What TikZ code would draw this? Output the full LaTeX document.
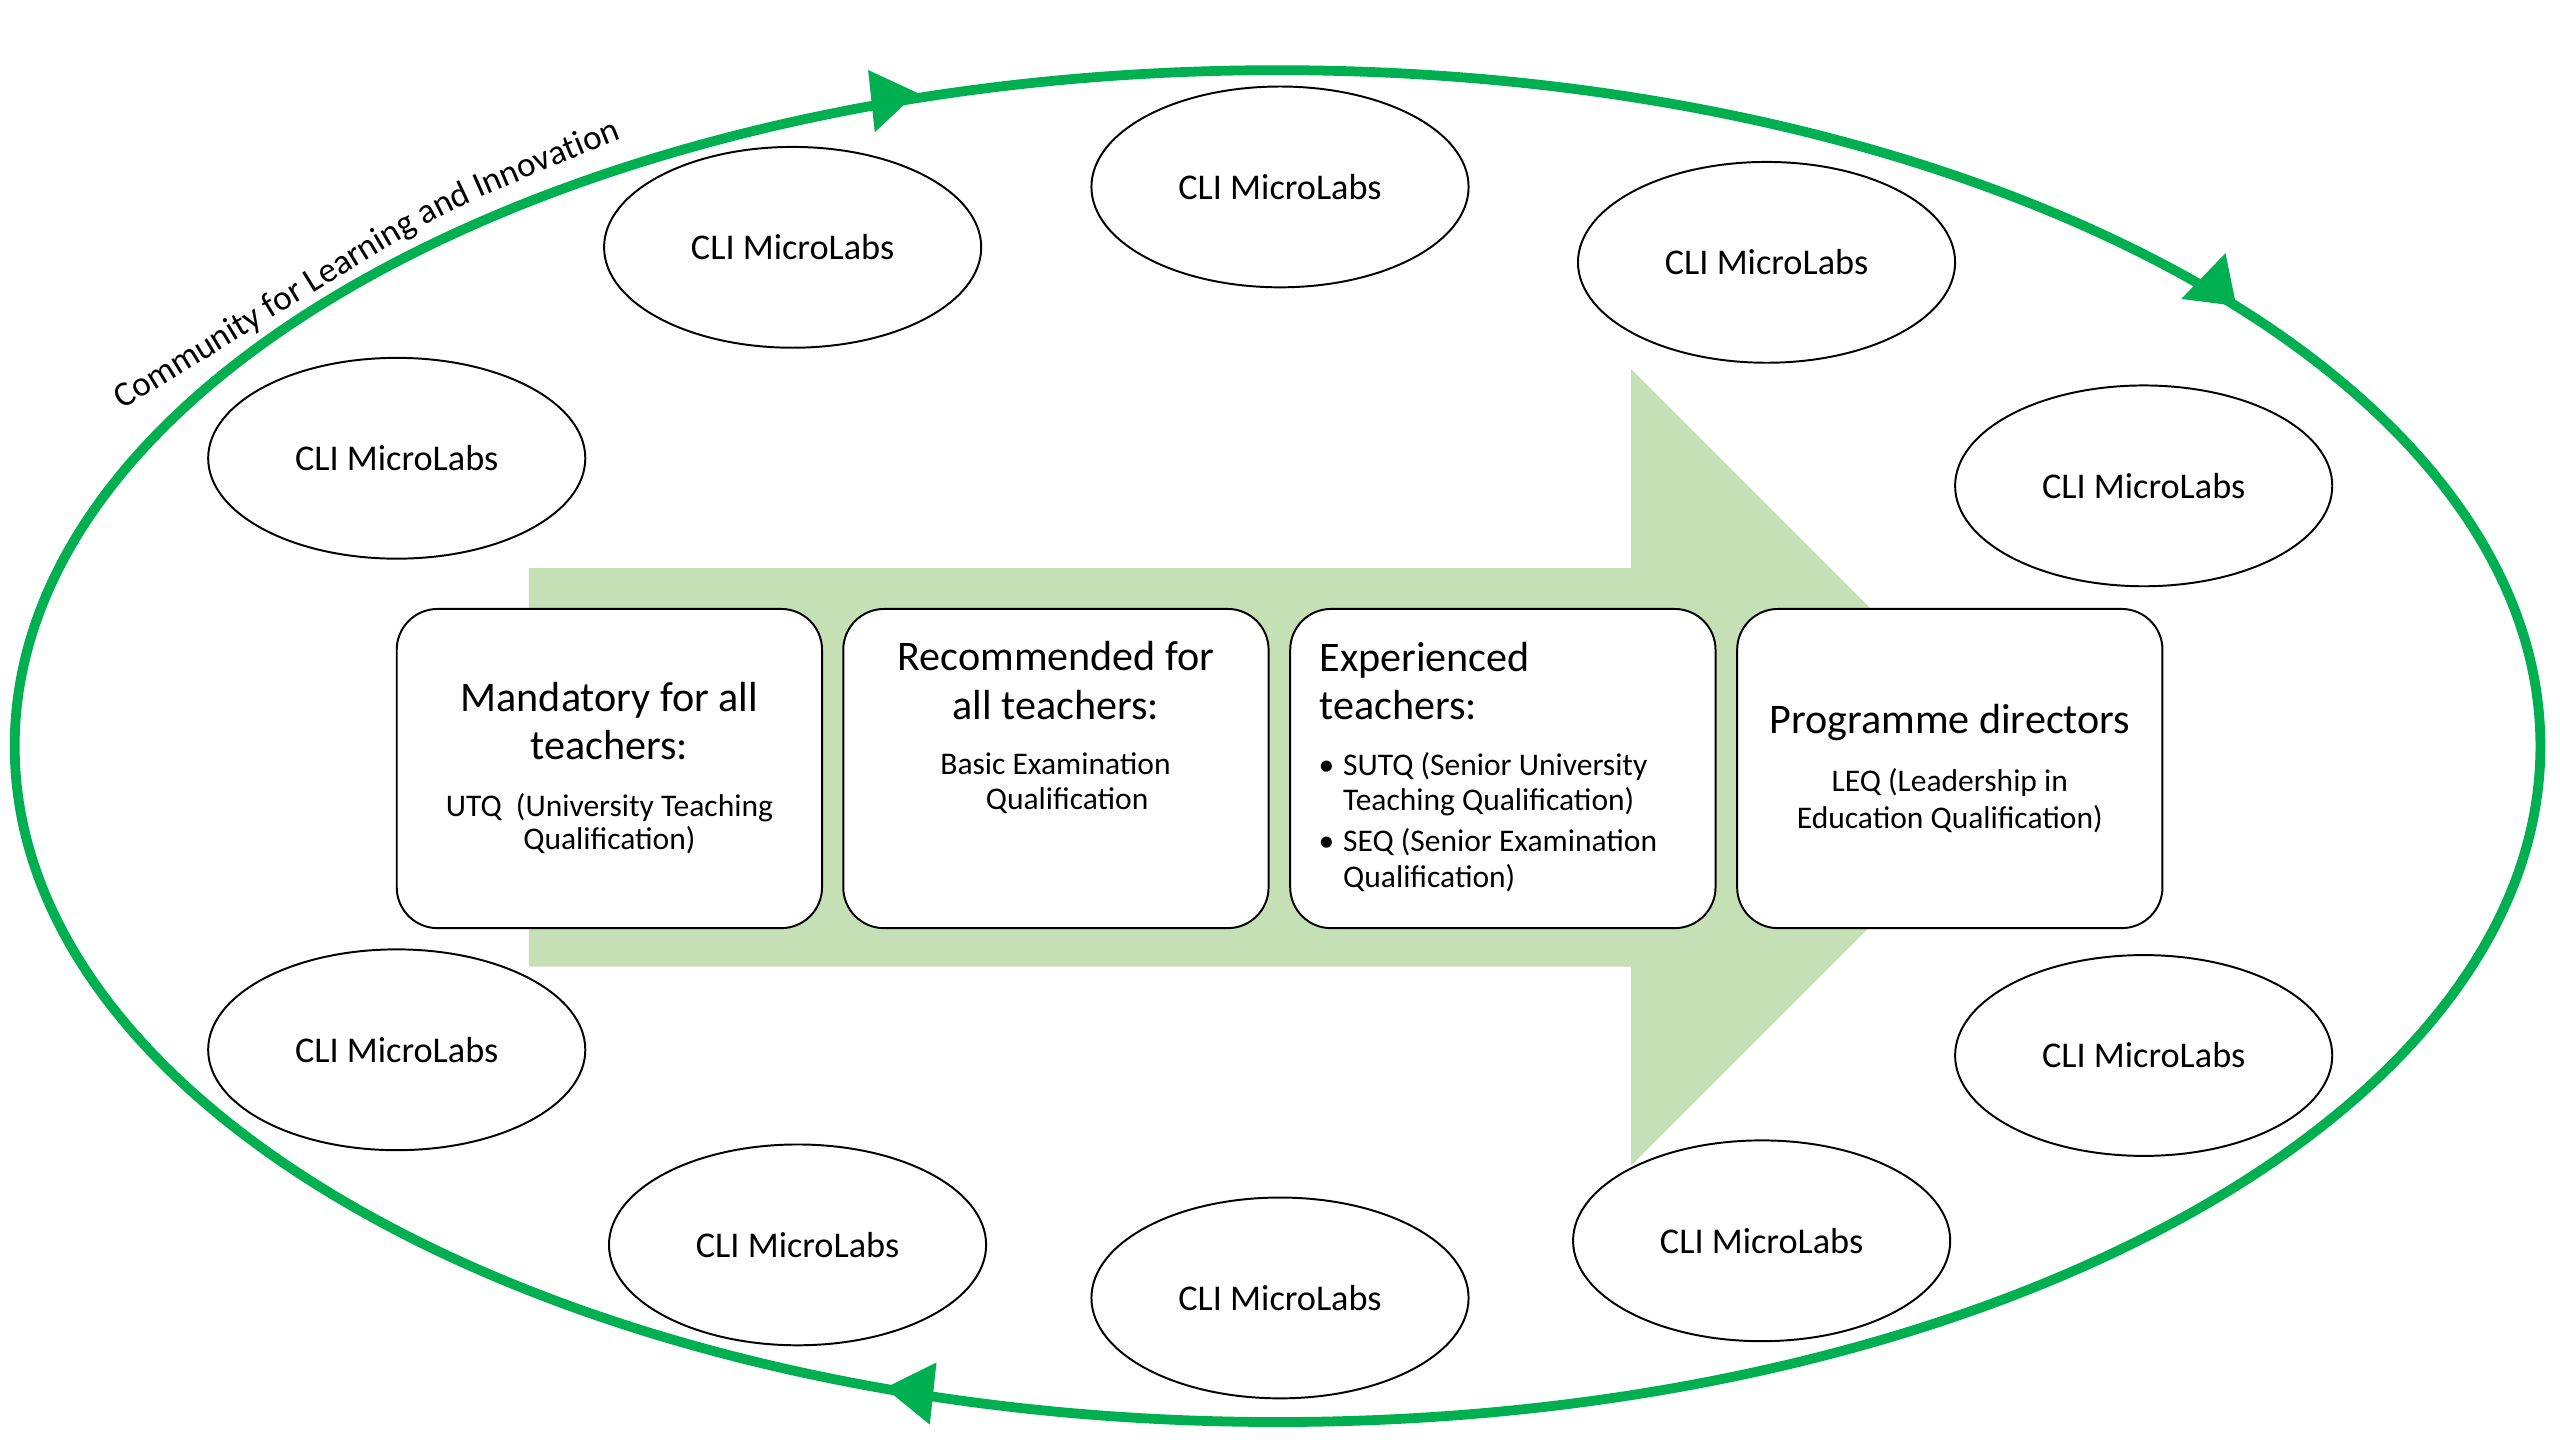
\documentclass[tikz,border=0pt]{standalone}
\usepackage{fontspec}
\setmainfont{Carlito}
\usetikzlibrary{shapes.geometric,decorations.text}
\definecolor{cligreen}{HTML}{00B050}
\definecolor{arrowgreen}{HTML}{C5E0B4}
\begin{document}
\begin{tikzpicture}[x=1pt,y=1pt,
  microlab/.style={ellipse,draw=black,line width=1.2pt,fill=white,minimum width=231pt,minimum height=123pt,inner sep=0pt,font=\fontsize{22.2}{26}\selectfont},
  qualbox/.style={draw=black,line width=1.2pt,fill=white,rounded corners=25pt,minimum width=260.5pt,minimum height=195.5pt,inner sep=0pt},
  headtxt/.style={inner sep=0pt,anchor=base,font=\fontsize{25.8}{30}\selectfont},
  bodytxt/.style={inner sep=0pt,anchor=base,font=\fontsize{19.3}{22}\selectfont},
  headleft/.style={headtxt,anchor=base west},
  bodyleft/.style={bodytxt,anchor=base west}
]
\useasboundingbox (0,0) rectangle (1568,882);
\fill[white] (0,0) rectangle (1568,882);

% block arrow
\fill[arrowgreen] (324,290) -- (324,534) -- (999,534) -- (999,656) -- (1243,412) -- (999,168) -- (999,290) -- cycle;

% community loop
\draw[cligreen,line width=6pt] (782.5,425) ellipse [x radius=773.5, y radius=414];
\fill[cligreen] (561.7,825.2) -- (531.7,839.1) -- (535.8,801) -- cycle;
\fill[cligreen] (1369.7,694.6) -- (1363.1,726.9) -- (1336,698.9) -- cycle;
\fill[cligreen] (542,31.8) -- (573.6,47.5) -- (569.5,9.4) -- cycle;

\path[decorate,decoration={text along path,text align=left,
  text={|\fontsize{21.5}{24}\selectfont|Community for Learning and Innovation}}]
  plot[smooth] coordinates {(75,631) (155,680) (245,735) (291,759.5) (384,798.3) (440,818)};

% MicroLabs
\node[microlab] (m1) at (243,601.3) {CLI MicroLabs};
\node[microlab] (m2) at (485.5,730.5) {CLI MicroLabs};
\node[microlab] (m3) at (784,767.5) {CLI MicroLabs};
\node[microlab] (m4) at (1082,721.3) {CLI MicroLabs};
\node[microlab] (m5) at (1313,584.4) {CLI MicroLabs};
\node[microlab] (m6) at (1313,235.5) {CLI MicroLabs};
\node[microlab] (m7) at (1079,122) {CLI MicroLabs};
\node[microlab] (m8) at (784,87) {CLI MicroLabs};
\node[microlab] (m9) at (488.5,119.5) {CLI MicroLabs};
\node[microlab] (m10) at (243,239) {CLI MicroLabs};

% boxes
\node[qualbox] (b1) at (373.25,411.25) {};
\node[qualbox] (b2) at (646.75,411.25) {};
\node[qualbox] (b3) at (920.5,411.25) {};
\node[qualbox] (b4) at (1194.25,411.25) {};

% box 1
\node[headtxt] (b1a) at (373.25,446.2) {Mandatory for all};
\node[headtxt] (b1b) at (373.25,417) {teachers:};
\node[bodytxt] (b1c) at (373.25,381.9) {UTQ\ \ (University Teaching};
\node[bodytxt] (b1d) at (373.25,361.5) {Qualification)};

% box 2
\node[headtxt] (b2a) at (646.75,471.3) {Recommended for};
\node[headtxt] (b2b) at (646.75,441.1) {all teachers:};
\node[bodytxt] (b2c) at (646.5,407.4) {Basic Examination};
\node[bodytxt] (b2d) at (653.6,386) {Qualification};

% box 3
\node[headleft] (b3a) at (808,470.7) {Experienced};
\node[headleft] (b3b) at (808,441.5) {teachers:};
\node[bodytxt] (b3u1) at (812.4,406.8) {•};
\node[bodyleft] (b3c) at (822.5,406.8) {SUTQ (Senior University};
\node[bodyleft] (b3d) at (822.5,385.6) {Teaching Qualification)};
\node[bodytxt] (b3u2) at (812.4,360.5) {•};
\node[bodyleft] (b3e) at (822.5,360.5) {SEQ (Senior Examination};
\node[bodyleft] (b3f) at (822.5,338.6) {Qualification)};

% box 4
\node[headtxt] (b4a) at (1194.25,432.9) {Programme directors};
\node[bodytxt] (b4b) at (1194.25,397.2) {LEQ (Leadership in};
\node[bodytxt] (b4c) at (1194.25,374.7) {Education Qualification)};
\end{tikzpicture}
\end{document}
